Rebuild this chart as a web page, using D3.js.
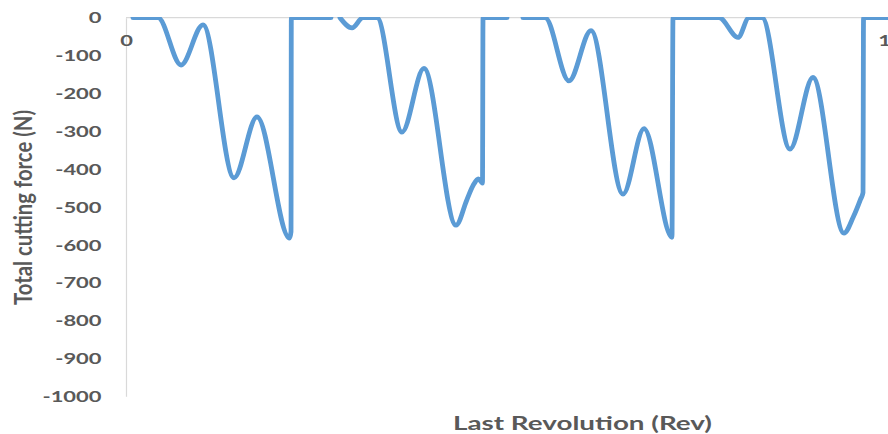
<!DOCTYPE html>
<html>
<head>
<meta charset="utf-8">
<script src="https://cdn.jsdelivr.net/npm/d3@7"></script>
<style>
  html, body { margin: 0; padding: 0; background: #ffffff; }
  svg { display: block; }
  text { font-family: Lato, "Open Sans", sans-serif; font-weight: 700; fill: #595959; }
</style>
</head>
<body>
<svg id="chart" width="888" height="434"></svg>
<script>
// Total cutting force over the last spindle revolution (null = outside the 0..-1000 N window)
const revolution = [
  0.0092, 0.0422, 0.0726, 0.1016, 0.1425, 0.1728, 0.2157, 0.2177, 0.2181,
  0.2704, 0.2760, 0.2823,
  0.2982, 0.3127, 0.3311, 0.3641, 0.3931, 0.4354, 0.4495, 0.4582, 0.4648, 0.4697, 0.4703, 0.4710,
  0.5026, 0.5130, 0.5237,
  0.5528, 0.5844, 0.6135, 0.6557, 0.6834, 0.7203, 0.7216,
  0.7823, 0.8074, 0.8219, 0.8391, 0.8760, 0.9063, 0.9472, 0.9596, 0.9690, 0.9723, 0.9730,
  1.0050
];
const cuttingForce = [
  0, 0, -125, -19, -423, -262, -582, -565, 0,
  0, null, 0,
  -27, 0, 0, -302, -134, -548, -482, -442, -426, -436, -437, 0,
  0, null, 0,
  0, -167, -34, -466, -293, -580, 0,
  0, -52, 0, 0, -347, -158, -569, -526, -480, -462, 0,
  0
];
const yTickValues = [0, -100, -200, -300, -400, -500, -600, -700, -800, -900, -1000];
const xTickValues = [0, 1];
const xTitle = "Last Revolution (Rev)";
const yTitle = "Total cutting force (N)";

const points = revolution.map((r, i) => ({ r, f: cuttingForce[i] }));

const svg = d3.select("#chart");
const x = d3.scaleLinear().domain([0, 1]).range([126, 884]);
const y = d3.scaleLinear().domain([-1000, 0]).range([396.3, 17.7]);

const tickFont = 14.5;
const axisColor = "#d9d9d9";
const plain = d => String(d); // keeps an ASCII hyphen for negatives

// Vertical value axis
const yAxisG = svg.append("g")
  .attr("transform", `translate(${x(0)},0)`)
  .call(d3.axisLeft(y).tickValues(yTickValues).tickSize(0).tickSizeOuter(0).tickPadding(24.5)
        .tickFormat(plain));
yAxisG.select(".domain").attr("stroke", axisColor).attr("stroke-width", 1.2);

// Horizontal axis crossing at 0 N
const xAxisG = svg.append("g")
  .attr("transform", `translate(0,${y(0)})`)
  .call(d3.axisBottom(x).tickValues(xTickValues).tickSize(0).tickSizeOuter(0).tickPadding(18.2)
        .tickFormat(plain));
xAxisG.select(".domain").remove();
svg.append("line")
  .attr("x1", x(0)).attr("x2", 888)
  .attr("y1", y(0)).attr("y2", y(0))
  .attr("stroke", axisColor).attr("stroke-width", 1.2);

[yAxisG, xAxisG].forEach(g => {
  g.attr("font-family", null).attr("font-size", null);
  g.selectAll("text").style("font-size", tickFont + "px").attr("fill", "#595959");
});
yAxisG.selectAll("text").attr("dy", "0.36em");

// Labels are set in a wide face; widen each label from its natural width
const ref = yAxisG.selectAll("text").filter(d => d === -1000).node();
const stretch = 59 / ref.getComputedTextLength();
svg.selectAll(".tick text").each(function () {
  const w = this.getComputedTextLength();
  d3.select(this).attr("textLength", w * stretch).attr("lengthAdjust", "spacingAndGlyphs");
});

// Force curve, kept inside the plot window
svg.append("defs").append("clipPath").attr("id", "plotClip")
  .append("rect")
  .attr("x", x(0)).attr("y", y(0) - 0.6)
  .attr("width", 888 - x(0)).attr("height", y(-1000) - y(0) + 10);

const line = d3.line()
  .defined(d => d.f !== null)
  .x(d => x(d.r))
  .y(d => y(d.f))
  .curve(d3.curveMonotoneX);

svg.append("path")
  .datum(points)
  .attr("clip-path", "url(#plotClip)")
  .attr("fill", "none")
  .attr("stroke", "#5b9bd5")
  .attr("stroke-width", 4.8)
  .attr("stroke-linejoin", "round")
  .attr("stroke-linecap", "round")
  .attr("d", line);

// Axis titles
svg.append("text")
  .attr("x", 582.5).attr("y", 430)
  .attr("text-anchor", "middle")
  .style("font-size", "19px")
  .attr("textLength", 259).attr("lengthAdjust", "spacingAndGlyphs")
  .text(xTitle);

svg.append("text")
  .attr("transform", "translate(31.5,207.5) scale(1.5,1) rotate(-90)")
  .attr("text-anchor", "middle")
  .style("font-size", "16.5px")
  .attr("textLength", 195).attr("lengthAdjust", "spacingAndGlyphs")
  .text(yTitle);
</script>
</body>
</html>
